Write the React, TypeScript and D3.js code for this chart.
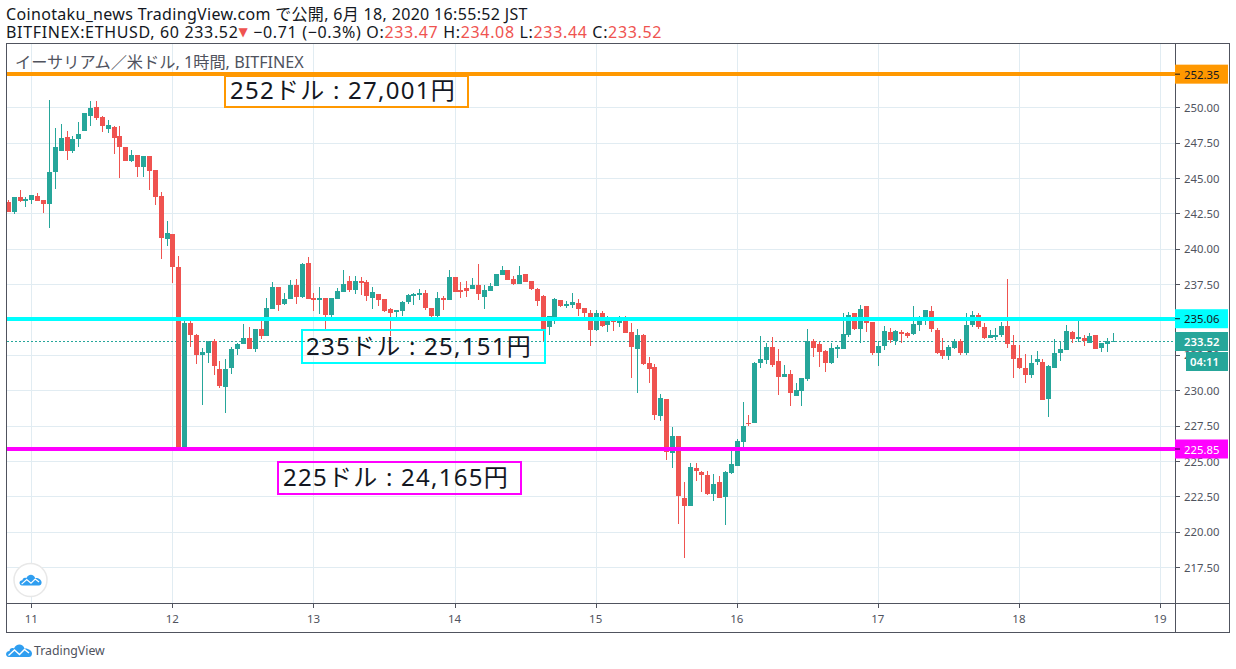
import * as d3 from "d3"

const WIDTH = 1236
const HEIGHT = 669

// hourly candles, first one is 4h before the "11" tick
const FIRST_HOUR = -4
const opens = [
  243.31,242.60,243.67,243.38,243.45,243.74,243.45,243.17,245.43,246.92,
  247.91,246.92,247.77,248.33,249.39,250.03,249.32,248.47,248.61,247.98,
  247.20,246.21,246.63,245.79,246.56,245.57,243.74,240.70,241.05,238.72,
  225.95,234.76,233.91,232.49,232.64,233.50,231.50,230.23,231.57,232.92,
  233.27,233.70,232.92,234.33,233.84,235.75,237.30,236.10,236.45,237.44,
  236.59,239.00,236.52,236.38,236.52,235.32,236.45,236.95,237.73,237.09,
  237.73,237.66,236.52,236.81,236.45,235.75,235.54,235.61,236.24,236.67,
  236.74,236.88,235.82,235.25,236.52,236.38,238.01,237.09,237.23,237.16,
  237.44,236.59,237.02,237.37,238.15,238.50,237.87,237.51,238.22,237.73,
  237.16,236.67,234.48,235.11,236.38,235.96,236.03,236.17,235.82,235.47,
  234.26,235.47,234.62,234.90,234.76,235.04,234.12,232.92,233.91,231.93,
  231.65,228.18,229.38,225.57,226.77,222.39,221.82,224.51,224.22,224.01,
  222.67,223.52,222.46,224.15,224.65,226.35,227.69,227.69,231.93,232.14,
  233.06,232.07,230.94,231.15,229.60,229.95,230.80,233.50,233.27,232.78,
  231.93,232.92,232.92,233.91,235.47,234.33,235.96,234.83,232.64,233.13,
  234.12,233.50,234.12,234.05,233.98,234.62,235.18,235.61,234.26,232.85,
  232.42,232.99,233.50,232.64,234.62,235.32,234.48,233.70,233.77,233.91,
  234.55,233.20,232.28,231.57,231.08,232.00,232.00,229.38,231.57,232.64,
  232.85,234.12,233.62,233.70,233.34,233.91,232.99,233.27,233.47,
]
const highs = [
  243.45,243.67,244.16,243.69,243.81,243.95,243.45,250.52,248.54,248.83,
  248.33,247.98,248.97,249.60,250.45,250.45,249.40,249.11,248.69,248.69,
  247.20,246.99,246.63,246.56,246.56,245.57,244.02,241.97,241.05,239.49,
  235.11,234.97,233.98,232.99,233.50,233.62,232.07,232.21,233.06,233.34,
  234.69,234.48,234.33,234.97,236.52,237.66,237.30,236.88,237.80,237.87,
  239.00,239.42,236.88,237.30,236.52,236.52,237.23,238.50,238.08,238.08,
  238.01,237.80,237.30,236.81,236.45,235.82,235.68,236.31,236.81,236.85,
  237.16,237.09,235.82,236.95,236.67,238.50,238.01,237.66,237.73,237.94,
  238.93,237.44,237.60,238.22,238.79,238.50,238.08,238.79,238.22,237.73,
  237.23,236.74,235.25,236.52,236.38,236.31,236.88,236.45,235.82,235.68,
  235.68,235.61,235.25,235.04,235.25,235.25,234.76,234.33,233.98,232.35,
  231.86,229.74,229.38,227.40,226.77,223.52,224.86,224.86,224.30,224.30,
  224.08,223.94,224.30,225.71,226.56,229.17,228.25,232.00,233.84,233.34,
  233.77,232.92,231.79,231.43,230.51,230.87,234.33,233.62,233.41,232.85,
  233.34,233.20,235.47,235.54,235.47,236.03,235.96,234.83,233.50,234.55,
  234.40,234.26,234.26,234.12,235.96,235.25,235.68,235.96,234.40,233.70,
  233.20,233.62,233.62,235.47,235.61,235.47,234.76,234.26,234.40,234.83,
  237.87,233.91,233.20,232.57,232.49,232.78,232.21,231.79,233.62,233.50,
  234.62,234.19,234.90,233.91,234.05,233.91,233.34,233.70,234.08,
]
const lows = [
  242.60,242.49,243.31,242.96,243.17,243.38,242.53,241.47,244.23,246.92,
  246.28,246.80,247.20,248.33,248.69,249.11,248.26,248.19,246.70,245.01,
  246.21,246.14,245.08,245.08,244.16,243.10,239.28,240.20,237.60,225.90,
  225.90,233.06,231.86,228.96,231.93,231.08,230.16,228.39,231.15,232.49,
  233.27,232.92,232.71,233.62,233.84,235.75,235.61,236.03,236.45,236.10,
  236.52,236.45,235.61,235.39,234.33,235.18,236.45,236.95,236.95,236.81,
  236.74,236.31,235.75,235.96,235.54,233.84,235.04,235.25,236.10,236.03,
  236.38,235.68,235.04,235.18,235.68,236.38,236.95,236.52,236.59,237.16,
  236.38,235.75,237.02,237.37,238.15,237.80,237.44,237.51,237.66,237.09,
  235.96,233.50,233.91,234.69,235.90,235.82,235.82,235.25,234.90,233.13,
  234.19,234.48,234.12,234.19,234.48,234.05,230.87,229.81,231.79,230.51,
  227.90,227.83,225.07,224.51,220.55,218.14,221.82,223.59,222.81,222.60,
  222.17,222.39,220.48,224.08,224.65,225.99,227.47,227.69,231.57,231.86,
  231.65,229.67,230.94,228.89,229.60,228.89,230.66,232.35,231.65,231.29,
  231.86,232.28,232.92,233.77,234.26,233.34,234.12,232.49,231.72,232.85,
  233.34,233.20,233.34,233.70,233.91,234.19,234.62,234.12,232.57,232.21,
  232.14,232.92,232.49,232.49,234.48,234.33,233.62,233.70,233.55,233.77,
  232.99,230.87,231.50,230.51,230.87,231.79,229.31,228.11,231.57,232.07,
  232.85,233.34,233.41,233.13,233.34,232.92,232.71,232.71,233.44,
]
const closes = [
  242.60,243.67,243.38,243.52,243.81,243.38,243.17,245.43,247.20,247.84,
  246.92,247.77,248.12,249.60,249.96,249.25,248.69,248.76,247.84,247.20,
  246.21,246.63,245.79,246.56,245.50,243.67,240.77,241.12,238.72,225.95,
  234.76,233.91,232.49,232.71,233.50,231.72,230.30,231.50,232.92,233.27,
  233.70,232.92,234.33,233.84,235.82,237.30,236.03,236.45,237.44,236.59,
  238.93,236.45,236.38,236.52,235.32,236.52,237.02,237.51,237.09,237.73,
  237.60,236.67,236.95,236.38,235.61,235.47,235.68,236.24,236.74,236.81,
  236.88,235.82,235.25,236.52,236.38,238.01,236.95,236.95,237.02,237.44,
  236.81,237.09,237.37,238.22,238.50,237.80,237.51,238.15,237.66,237.16,
  236.31,234.26,235.25,236.45,235.96,236.10,236.24,235.75,235.47,234.26,
  235.47,234.55,234.90,234.83,235.04,234.05,233.06,233.91,231.86,231.50,
  228.25,229.45,225.64,226.77,222.53,221.82,224.58,224.30,224.01,222.67,
  223.37,222.39,224.22,224.79,226.42,227.47,227.62,231.93,232.21,233.06,
  231.79,230.94,231.15,229.81,230.02,230.87,233.50,232.99,232.71,231.93,
  232.99,233.06,233.98,235.32,234.33,235.75,234.76,232.64,233.13,234.19,
  233.55,234.19,233.98,233.84,234.69,235.18,235.68,234.33,232.64,232.42,
  233.06,233.50,232.64,234.62,235.32,234.48,233.70,233.91,233.91,234.55,
  233.27,232.21,231.57,231.08,231.93,232.21,229.31,231.72,232.64,232.92,
  234.19,233.62,233.77,233.50,233.84,232.92,233.34,233.50,233.52,
]

// 232.50 and 225.00 sit partly under the price tags, the tags are drawn after them
const priceTicks = [217.5, 220, 222.5, 225, 227.5, 230, 232.5, 235, 237.5, 240, 242.5, 245, 247.5, 250, 252.5]
const dayLabels = ["11", "12", "13", "14", "15", "16", "17", "18", "19"]

const levelPrices = [252.35, 235.06, 225.85]
const levelColors = ["#ff9800", "#00ffff", "#ff00ff"]
const levelTextColors = ["#131722", "#131722", "#ffffff"]
const noteTexts = ["252ドル : 27,001円", "235ドル : 25,151円", "225ドル : 24,165円"]

const LAST_PRICE = 233.52
const UP = "#26a69a"
const DOWN = "#ef5350"
const GRID = "#e1ecf2"
const FRAME = "#50535e"
const FONT = "'Noto Sans', 'Noto Sans CJK JP', sans-serif"

const PLOT = { left: 7, right: 1175, top: 44, bottom: 603, outerRight: 1229, outerBottom: 632 }

const noteBoxes = [
  { x0: 225, x1: 468, y0: 76, y1: 107, base: 99, tx: 230 },
  { x0: 302, x1: 545, y0: 330, y1: 363, base: 355, tx: 306 },
  { x0: 278, x1: 521, y0: 462, y1: 494, base: 486, tx: 283 },
]

const x = d3.scaleLinear().domain([0, 192]).range([31.3, 1160])
const y = d3.scaleLinear().domain([250, 230]).range([107.4, 390.3])

const LogoCloud = ({ tx, ty, k }: { tx: number; ty: number; k: number }) => (
  <g transform={`translate(${tx},${ty}) scale(${k})`}>
    <path
      d="M3 14C-1 14-1 8 3.5 8C3.5 5.5 6 4.5 8 5.5C10 0 17 0 18.5 5.5C22 5 26 7.5 26 10.5C26 13 24.5 14 23 14Z"
      fill="#2f9ef0"
    />
    <path d="M2.5 12.5L8.5 7L13.5 11.5L18.5 6.5L23 10" fill="none" stroke="#fff" strokeWidth={1.4} />
  </g>
)

export default function App() {
  const candles = opens.map((open, i) => ({
    hour: FIRST_HOUR + i,
    open,
    high: highs[i],
    low: lows[i],
    close: closes[i],
  }))

  return (
    <svg
      width={WIDTH}
      height={HEIGHT}
      viewBox={`0 0 ${WIDTH} ${HEIGHT}`}
      style={{ position: "absolute", left: 0, top: 0, background: "#fff" }}
      fontFamily={FONT}
    >
      <defs>
        <clipPath id="plot">
          <rect x={PLOT.left} y={PLOT.top} width={PLOT.right - PLOT.left} height={PLOT.bottom - PLOT.top} />
        </clipPath>
      </defs>

      <g shapeRendering="crispEdges">
        {priceTicks.map((p) => (
          <line key={p} x1={PLOT.left} x2={PLOT.right} y1={Math.round(y(p)) + 0.5} y2={Math.round(y(p)) + 0.5} stroke={GRID} />
        ))}
        {dayLabels.map((d, i) => (
          <line key={d} x1={Math.round(x(i * 24)) + 0.5} x2={Math.round(x(i * 24)) + 0.5} y1={PLOT.top} y2={PLOT.bottom} stroke={GRID} />
        ))}
        <line x1={PLOT.left} x2={PLOT.right} y1={Math.round(y(LAST_PRICE)) + 0.5} y2={Math.round(y(LAST_PRICE)) + 0.5} stroke={UP} strokeDasharray="2 2" />
      </g>

      <g clipPath="url(#plot)" shapeRendering="crispEdges">
        {candles.map((c) => {
          const cx = Math.round(x(c.hour))
          const color = c.close >= c.open ? UP : DOWN
          const top = Math.round(y(Math.max(c.open, c.close)))
          const bottom = Math.round(y(Math.min(c.open, c.close)))
          return (
            <g key={c.hour} fill={color}>
              <rect x={cx} y={Math.round(y(c.high))} width={1} height={Math.max(1, Math.round(y(c.low)) - Math.round(y(c.high)))} />
              <rect x={cx - 2} y={top} width={5} height={Math.max(1, bottom - top)} />
            </g>
          )
        })}
      </g>

      {levelPrices.map((p, i) => (
        <rect key={p} x={PLOT.left} y={Math.round(y(p)) - 2} width={PLOT.right - PLOT.left} height={4} fill={levelColors[i]} shapeRendering="crispEdges" />
      ))}

      {noteBoxes.map((b, i) => (
        <g key={noteTexts[i]}>
          <rect x={b.x0} y={b.y0} width={b.x1 - b.x0} height={b.y1 - b.y0} fill="none" stroke={levelColors[i]} strokeWidth={2} shapeRendering="crispEdges" />
          <text x={b.tx} y={b.base} fontSize={24} letterSpacing={1.25} fill="#131722">
            {noteTexts[i]}
          </text>
        </g>
      ))}

      {/* axes */}
      <g shapeRendering="crispEdges" fill="none" stroke={FRAME}>
        <rect x={6.5} y={43.5} width={PLOT.outerRight - 6.5} height={PLOT.outerBottom - 43.5} />
        <line x1={PLOT.right + 0.5} x2={PLOT.right + 0.5} y1={43} y2={PLOT.outerBottom} />
        <line x1={6} x2={PLOT.outerRight} y1={PLOT.bottom + 0.5} y2={PLOT.bottom + 0.5} />
        {priceTicks.map((p) => (
          <line key={p} x1={PLOT.right} x2={PLOT.right + 5} y1={Math.round(y(p)) + 0.5} y2={Math.round(y(p)) + 0.5} />
        ))}
        {dayLabels.map((d, i) => (
          <line key={d} x1={Math.round(x(i * 24)) + 0.5} x2={Math.round(x(i * 24)) + 0.5} y1={PLOT.bottom} y2={PLOT.bottom + 5} />
        ))}
      </g>
      {priceTicks.map((p) => (
        <text key={p} x={1184} y={y(p) + 4.5} fontSize={11.3} fill={FRAME}>
          {p.toFixed(2)}
        </text>
      ))}
      {dayLabels.map((d, i) => (
        <text key={d} x={x(i * 24)} y={623} fontSize={11.5} fill={FRAME} textAnchor="middle">
          {d}
        </text>
      ))}

      {/* price tags on the axis */}
      {levelPrices.map((p, i) => (
        <g key={p}>
          <rect x={PLOT.right} y={y(p) - 9.5} width={53} height={19} fill={levelColors[i]} />
          <line x1={PLOT.right} x2={PLOT.right + 5} y1={y(p)} y2={y(p)} stroke="#131722" />
          <text x={1184} y={y(p) + 4.5} fontSize={11.3} fill={levelTextColors[i]}>
            {p.toFixed(2)}
          </text>
        </g>
      ))}
      <rect x={PLOT.right} y={332} width={53} height={19} fill={UP} />
      <text x={1184} y={346} fontSize={11.3} fontWeight={600} fill="#fff">
        {LAST_PRICE.toFixed(2)}
      </text>
      <rect x={1186} y={352} width={42} height={19} fill={UP} />
      <text x={1190} y={366} fontSize={11.3} fontWeight={600} fill="#fff">
        04:11
      </text>

      {/* title rows */}
      <text x={6} y={20} fontSize={16} letterSpacing={0.33} fill="#131722">
        Coinotaku_news TradingView.com で公開, 6月 18, 2020 16:55:52 JST
      </text>
      <text x={6} y={38} fontSize={16} letterSpacing={0.66} fill="#131722">
        BITFINEX:ETHUSD, 60 233.52
        <tspan fill={DOWN} fontSize={12} fontFamily="'DejaVu Sans'" dy={-2}>▼</tspan>
        <tspan dy={2}> −0.71 (−0.3%) O:</tspan>
        <tspan fill={DOWN}>233.47</tspan> H:<tspan fill={DOWN}>234.08</tspan> L:<tspan fill={DOWN}>233.44</tspan> C:<tspan fill={DOWN}>233.52</tspan>
      </text>
      <text x={15} y={68} fontSize={16.2} fill={FRAME}>
        イーサリアム／米ドル, 1時間, BITFINEX
      </text>

      {/* logos */}
      <circle cx={30.5} cy={580} r={16.5} fill="#fff" stroke="#e8e8e8" strokeWidth={1.5} />
      <LogoCloud tx={19.5} ty={573.5} k={0.85} />
      <LogoCloud tx={6} ty={643} k={1} />
      <text x={34} y={655} fontSize={12.3} fill={FRAME}>
        TradingView
      </text>
    </svg>
  )
}
